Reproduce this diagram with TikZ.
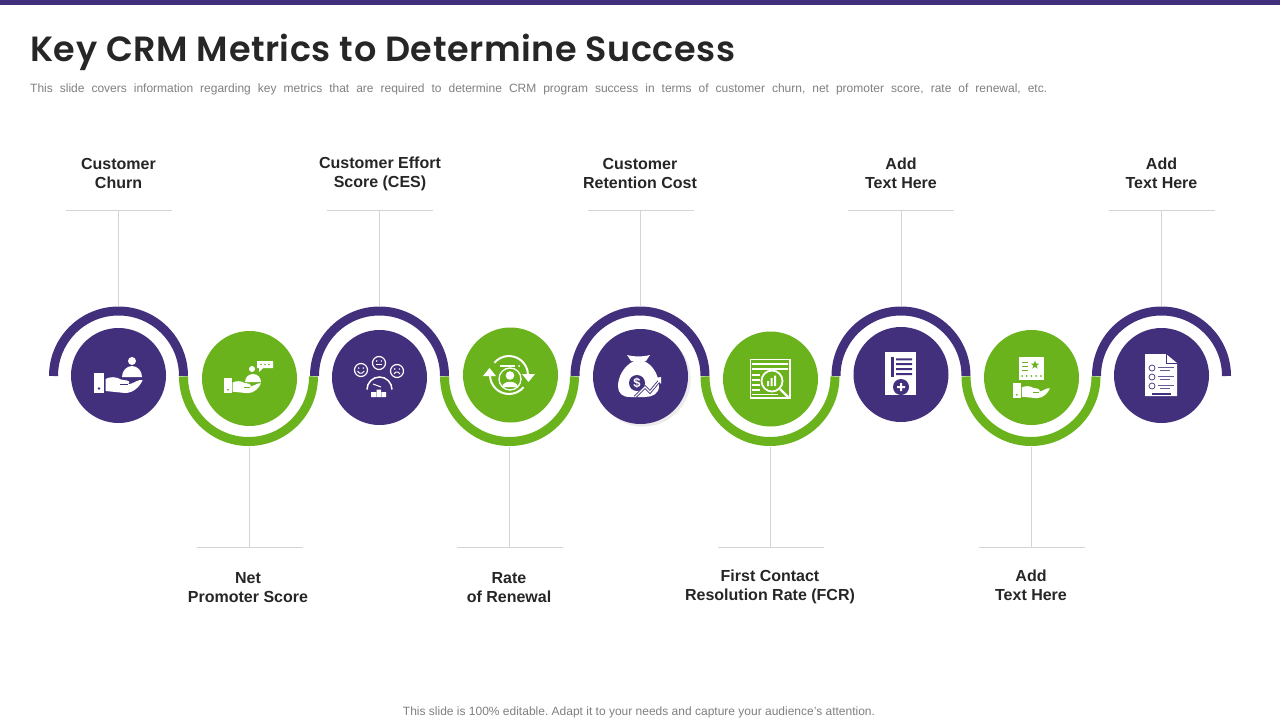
\documentclass[tikz,border=0pt]{standalone}
\usepackage{fontspec}
\usepackage{tikz}
\usetikzlibrary{shapes.geometric,shadows}
\setmainfont{Liberation Sans}
\newfontfamily\titlefont[LetterSpace=1.6]{Poppins SemiBold}
\newfontfamily\subfont[WordSpace=2.1]{Liberation Sans}
\definecolor{purp}{HTML}{43307C}
\definecolor{grn}{HTML}{6AB31D}
\definecolor{txt}{HTML}{262626}
\definecolor{note}{HTML}{7F7F7F}
\definecolor{leader}{HTML}{D4D4D4}
\tikzset{
  disc/.style={circle,minimum size=95pt,inner sep=0pt},
  lab/.style={align=center,text=txt,font=\fontsize{16}{19}\selectfont\bfseries},
  purparc/.style={draw=purp,line width=9pt},
  grnarc/.style={draw=grn,line width=9pt},
  lead/.style={draw=leader,line width=.8pt},
  handicon/.pic={
    \fill[white] (0,0) rectangle (10,20);
    \fill[#1] (5,15.5) circle (1.3);
    \fill[white] (11.5,6) .. controls (16,3.5) and (22,3.5) .. (27,6.5) -- (33,7.5)
      .. controls (36,8) and (36,11) .. (34,11.3) -- (36,11)
      .. controls (40,10) and (45,6) .. (48.7,7)
      .. controls (46,13) and (40,20) .. (31,20) -- (11.5,18) -- cycle;
    \draw[#1,line width=.5pt] (26,11.7) -- (34,11.7);
  }
}
\begin{document}
\begin{tikzpicture}[x=1pt,y=-1pt]
  \useasboundingbox (0,0) rectangle (1280,720);
  \fill[purp] (0,0) rectangle (1280,4.5);

  \node[anchor=base west,inner sep=0pt,text=txt,font=\titlefont\fontsize{35}{40}\selectfont] (title) at (30,61) {Key CRM Metrics to Determine Success};
  \node[anchor=base west,inner sep=0pt,text=note,font=\subfont\fontsize{12}{14}\selectfont\frenchspacing] (sub) at (30,92.5) {This slide covers information regarding key metrics that are required to determine CRM program success in terms of customer churn, net promoter score, rate of renewal, etc.};
  \node[inner sep=0pt,text=note,font=\fontsize{12}{14}\selectfont\frenchspacing] (foot) at (639,712) {This slide is 100\% editable. Adapt it to your needs and capture your audience's attention.};

  % arcs
  \draw[purparc] (53.5,376) arc[start angle=180,end angle=0,radius=65pt];
  \draw[grnarc] (183.5,376.5) arc[start angle=180,end angle=360,radius=65pt];
  \draw[purparc] (314.5,376) arc[start angle=180,end angle=0,radius=65pt];
  \draw[grnarc] (444.5,376.5) arc[start angle=180,end angle=360,radius=65pt];
  \draw[purparc] (575,376) arc[start angle=180,end angle=0,radius=65pt];
  \draw[grnarc] (705,376.5) arc[start angle=180,end angle=360,radius=65pt];
  \draw[purparc] (836,376) arc[start angle=180,end angle=0,radius=65pt];
  \draw[grnarc] (966,376.5) arc[start angle=180,end angle=360,radius=65pt];
  \draw[purparc] (1096.5,376) arc[start angle=180,end angle=0,radius=65pt];

  % discs
  \node[disc,fill=purp] (churn) at (118.5,375.5) {};
  \node[disc,fill=grn] (nps) at (249.5,378.5) {};
  \node[disc,fill=purp] (ces) at (379.5,377.5) {};
  \node[disc,fill=grn] (renew) at (510.5,375) {};
  \node[disc,fill=purp,drop shadow={opacity=.15,shift={(1.5pt,-2pt)}}] (cost) at (640.5,376.5) {};
  \node[disc,fill=grn] (fcr) at (770.5,379) {};
  \node[disc,fill=purp] (add1) at (901,374.5) {};
  \node[disc,fill=grn] (add2) at (1031.5,377.5) {};
  \node[disc,fill=purp] (add3) at (1161.5,375.5) {};

  % leaders
  \coordinate (t1) at (118.5,210); \coordinate (a1) at (118.5,306);
  \coordinate (t2) at (249.5,547); \coordinate (a2) at (249.5,447);
  \coordinate (t3) at (379.5,210); \coordinate (a3) at (379.5,306);
  \coordinate (t4) at (509.5,547); \coordinate (a4) at (509.5,447);
  \coordinate (t5) at (640.5,210); \coordinate (a5) at (640.5,306);
  \coordinate (t6) at (770.5,547); \coordinate (a6) at (770.5,447);
  \coordinate (t7) at (901,210); \coordinate (a7) at (901,306);
  \coordinate (t8) at (1031.5,547); \coordinate (a8) at (1031.5,447);
  \coordinate (t9) at (1161.5,210); \coordinate (a9) at (1161.5,306);
  \draw[lead] (a1) -- (t1) ++(-53,0) -- ++(106,0);
  \draw[lead] (a2) -- (t2) ++(-53,0) -- ++(106,0);
  \draw[lead] (a3) -- (t3) ++(-53,0) -- ++(106,0);
  \draw[lead] (a4) -- (t4) ++(-53,0) -- ++(106,0);
  \draw[lead] (a5) -- (t5) ++(-53,0) -- ++(106,0);
  \draw[lead] (a6) -- (t6) ++(-53,0) -- ++(106,0);
  \draw[lead] (a7) -- (t7) ++(-53,0) -- ++(106,0);
  \draw[lead] (a8) -- (t8) ++(-53,0) -- ++(106,0);
  \draw[lead] (a9) -- (t9) ++(-53,0) -- ++(106,0);

  % labels
  \node[lab] (l1) at (118.5,173) {Customer\\Churn};
  \node[lab] (l2) at (248,587.5) {Net\\Promoter Score};
  \node[lab] (l3) at (380,174) {Customer Effort\\Score (CES)};
  \node[lab] (l4) at (509,587.5) {Rate\\of Renewal};
  \node[lab] (l5) at (640,173) {Customer\\Retention Cost};
  \node[lab] (l6) at (770,587) {First Contact\\Resolution Rate (FCR)};
  \node[lab] (l7) at (901,173) {Add\\Text Here};
  \node[lab] (l8) at (1031,585.5) {Add\\Text Here};
  \node[lab] (l9) at (1161.5,173) {Add\\Text Here};

  % icon churn
  \pic at (94,373) {handicon=purp};
  \fill[white] (122,377) arc[start angle=180,end angle=0,x radius=10pt,y radius=11pt] -- cycle;
  \fill[white] (132,361) circle (4);

  % icon nps
  \pic[scale=.76] at (224,378) {handicon=grn};
  \fill[white] (245,382) arc[start angle=180,end angle=0,radius=8pt] -- cycle;
  \fill[white] (252,369) circle (3);
  \fill[white] (257,361) rectangle (273,368) (259,368) -- (259,372) -- (263,368) -- cycle;
  \fill[grn] (261,364.5) circle (.9) (265,364.5) circle (.9) (269,364.5) circle (.9);

  % icon ces
  \draw[white,line width=1.2pt] (361,370) circle (6.5) (379,363) circle (6.5) (397,371) circle (6.5);
  \draw[white,line width=1pt] (357.5,371) arc[start angle=200,end angle=340,radius=3.6pt];
  \draw[white,line width=1pt] (376,364.5) -- (382,364.5);
  \draw[white,line width=1pt] (394,374) arc[start angle=160,end angle=20,radius=3.2pt];
  \fill[white] (358.7,368) circle (.8) (363.3,368) circle (.8) (376.7,361) circle (.8) (381.3,361) circle (.8) (394.7,369) circle (.8) (399.3,369) circle (.8);
  \draw[white,line width=1.5pt] (367,389.5) arc[start angle=180,end angle=0,radius=12.5pt];
  \draw[white,line width=1pt] (373,384) -- (381,387);
  \fill[white] (371,392) rectangle (376,397) (376.5,389.5) rectangle (381,397) (381.5,392) rectangle (386,397);

  % icon renewal
  \draw[white,line width=2pt] (494.4,362.8) arc[start angle=140,end angle=0,radius=19pt];
  \draw[white,line width=2pt] (490,375) arc[start angle=180,end angle=320,radius=19pt];
  \fill[white] (483,376) -- (489.5,368) -- (496,376) -- cycle;
  \fill[white] (522,374) -- (535,374) -- (528.5,382) -- cycle;
  \draw[white,line width=1.3pt] (510,379) circle (11);
  \fill[white] (510,375.5) circle (4.3);
  \fill[white] (502,387) .. controls (503,380) and (517,380) .. (518,387) -- cycle;
  \draw[white,line width=1.2pt] (500,366) -- (515,366);
  \fill[white] (519,366) circle (1);

  % icon cost
  \fill[white] (627,355) .. controls (635,357) and (642,357) .. (650,355) -- (646,361) -- (631,361) -- cycle;
  \fill[white] (634,361) -- (644,361) .. controls (655,366) and (659,378) .. (659,386)
    .. controls (659,394) and (652,397) .. (645,397) -- (630,397)
    .. controls (622,397) and (618,393) .. (618,386) .. controls (618,378) and (623,366) .. (634,361) -- cycle;
  \fill[purp] (637,383) circle (8);
  \node[inner sep=0pt,text=white,font=\fontsize{13}{13}\selectfont\bfseries] (dollar) at (637,383) {\$};
  \draw[purp,line width=3pt] (635,397) -- (645,387) -- (650,392) -- (660,380);
  \draw[white,line width=1.2pt] (635,397) -- (645,387) -- (650,392) -- (660,380);
  \fill[white] (655,378) -- (661,377) -- (661,384) -- cycle;

  % icon fcr
  \draw[white,line width=1.3pt] (750.5,359.5) rectangle (790,398);
  \draw[white,line width=1.6pt] (752,364) -- (788,364) (752,369) -- (788,369);
  \draw[white,line width=1.6pt] (752,375) -- (760,375) (752,380) -- (760,380) (752,385) -- (760,385) (752,390) -- (760,390);
  \draw[white,line width=1.3pt] (752,394.5) -- (778,394.5);
  \fill[grn] (772,381) circle (11);
  \draw[white,line width=1.8pt] (772,381) circle (10.5);
  \draw[white,line width=2.4pt] (780,389) -- (788,397);
  \fill[white] (767,381) rectangle (769,386) (770.5,378) rectangle (772.5,386) (774,375.5) rectangle (776,386);

  % icon add1
  \fill[white] (885,352) rectangle (916,395);
  \fill[purp] (891,357) rectangle (894,377);
  \fill[purp] (896,358.3) rectangle (912,360.3) (896,363) rectangle (912,365) (896,368) rectangle (912,370) (896,373) rectangle (912,375);
  \fill[purp] (901,387) circle (8);
  \fill[white] (897,386) rectangle (905,388) (900,383) rectangle (902,391);

  % icon add2
  \fill[white] (1019,357) rectangle (1044,380);
  \draw[grn,line width=.8pt] (1022,362) -- (1028,362) (1022,366) -- (1028,366) (1022,370) -- (1028,370);
  \node[star,star points=5,star point ratio=2.4,fill=grn,inner sep=0pt,minimum size=9pt] (star8) at (1035,365) {};
  \fill[grn] (1022,376) circle (1) (1026.7,376) circle (1) (1031.4,376) circle (1) (1036.1,376) circle (1) (1040.8,376) circle (1);
  \pic[scale=.76] at (1013,383) {handicon=grn};

  % icon add3
  \fill[white] (1145,354) -- (1166,354) -- (1177,363) -- (1177,396) -- (1145,396) -- cycle;
  \draw[purp,line width=.6pt] (1166,354) -- (1166,363) -- (1177,363);
  \draw[purp,line width=.7pt] (1152,368) circle (3) (1152,377) circle (3) (1152,386) circle (3);
  \draw[purp!80,line width=.8pt] (1158,367) -- (1174,367) (1160,370) -- (1170,370) (1158,376) -- (1174,376) (1160,379) -- (1170,379) (1158,385) -- (1174,385) (1160,388) -- (1170,388);
  \draw[purp,line width=1.2pt] (1152,394) -- (1171,394);
\end{tikzpicture}
\end{document}
